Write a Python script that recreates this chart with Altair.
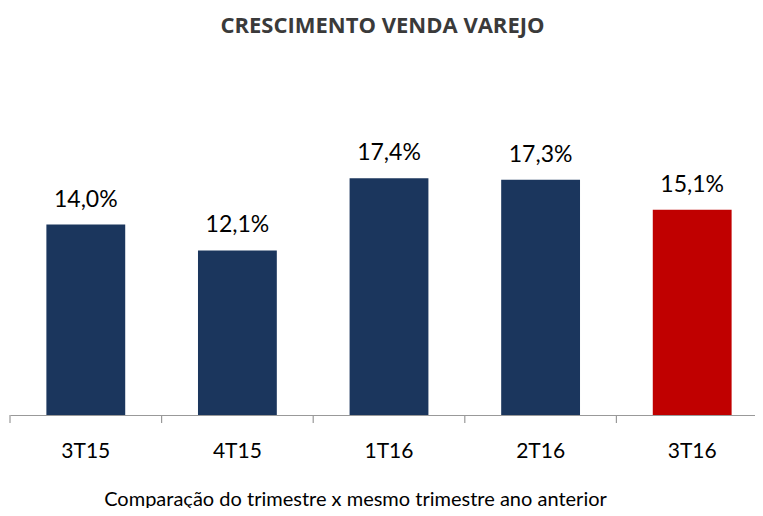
import altair as alt
import pandas as pd

categories = ["3T15", "4T15", "1T16", "2T16", "3T16"]
values = [14.0, 12.1, 17.4, 17.3, 15.1]
labels = ["14,0%", "12,1%", "17,4%", "17,3%", "15,1%"]
colors = ["#1b365d", "#1b365d", "#1b365d", "#1b365d", "#c00000"]

df = pd.DataFrame({"cat": categories, "val": values, "lab": labels, "col": colors})

# band scale: step = 758 / (5 - 0.48 + 2*0.24) = 151.6 ; half gap = 0.24 * 151.6
RANGE_W = 758
P_IN = 0.48
P_OUT = 0.24
STEP = RANGE_W / (len(categories) - P_IN + 2 * P_OUT)
HALF_GAP = P_IN * STEP / 2

x = alt.X(
    "cat:N",
    sort=categories,
    scale=alt.Scale(paddingInner=P_IN, paddingOuter=P_OUT, range=[0, RANGE_W]),
    axis=alt.Axis(
        title="Comparação do trimestre x mesmo trimestre ano anterior",
        titleFont="Lato", titleFontSize=20, titleFontWeight="normal", titleColor="#000000",
        titlePadding=28, titleX=345, titleAlign="center",
        labelFont="Lato", labelFontSize=21, labelColor="#000000", labelAngle=0,
        labelPadding=25,
        ticks=False,
        domainColor="#999999", domainWidth=1, grid=False,
    ),
)
y = alt.Y("val:Q", scale=alt.Scale(domain=[0, 22.06], nice=False, zero=True), axis=None)

bars = alt.Chart(df).mark_bar().encode(x=x, y=y, color=alt.Color("col:N", scale=None))
text = alt.Chart(df).mark_text(
    baseline="alphabetic", dy=-18, font="Lato", fontSize=23, color="#000000"
).encode(x=alt.X("cat:N", sort=categories), y="val:Q", text="lab:N")
ticks = alt.Chart(df).mark_rule(
    color="#999999", strokeWidth=1.2, xOffset=-HALF_GAP
).encode(
    x=alt.X("cat:N", sort=categories, bandPosition=0),
    y=alt.value(300),
    y2=alt.value(308),
)

chart = (
    alt.layer(bars, text, ticks)
    .properties(
        width=745,
        height=300,
        autosize=alt.AutoSizeParams(type="none"),
        padding={"left": 2, "top": 107, "right": 0, "bottom": 93},
        title=alt.TitleParams(
            "CRESCIMENTO VENDA VAREJO",
            font="Open Sans", fontSize=22, fontWeight="bold", color="#3a3a3a",
            anchor="middle", baseline="alphabetic", offset=60,
        ),
    )
    .configure_view(stroke=None)
)

chart.save("out.html", embed_options={"renderer": "svg", "actions": False})
